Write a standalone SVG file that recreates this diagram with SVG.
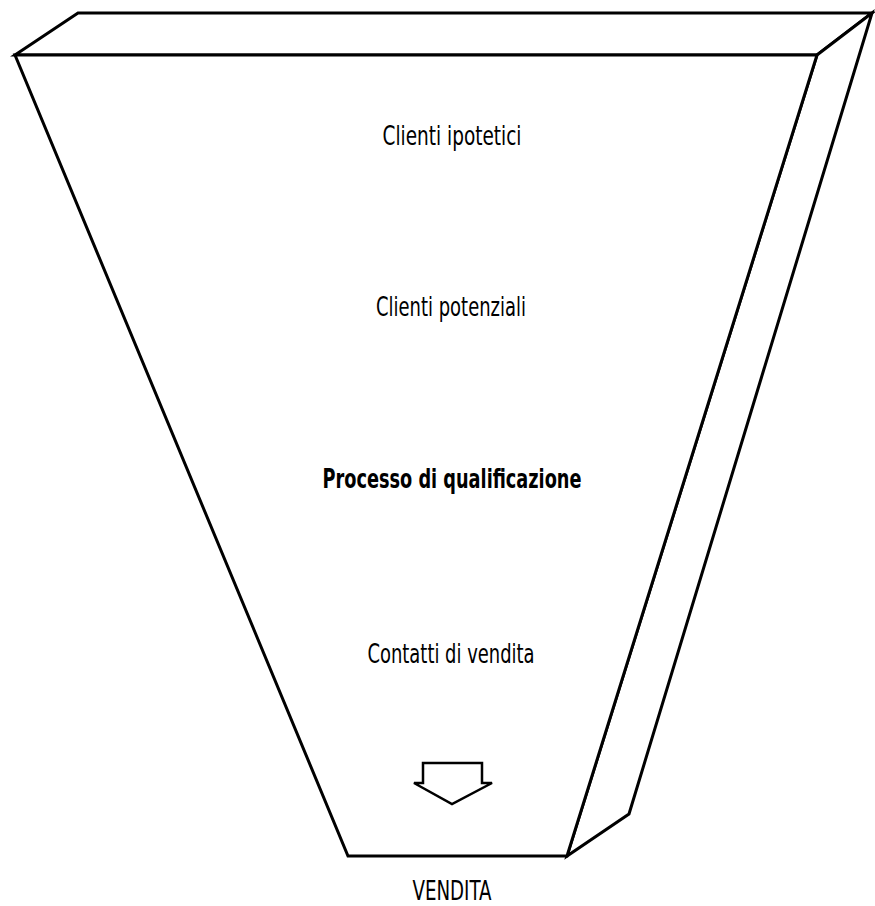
<svg xmlns="http://www.w3.org/2000/svg" width="875" height="906" viewBox="0 0 875 906">
<style>
.edge{fill:#fff;stroke:#000;stroke-width:3;stroke-linejoin:miter}
.lbl{font-family:"DejaVu Sans Condensed","Liberation Sans Narrow","Liberation Sans",sans-serif;font-stretch:condensed;font-size:27px;fill:#000;text-anchor:middle}
.b{font-weight:bold}
</style>
<rect width="875" height="906" fill="#fff"/>
<g id="funnel">
<polygon class="edge" points="15,55 78,13 872,13 817,55"/>
<polygon class="edge" points="817,55 872,13 629,814 567,856"/>
<polygon class="edge" points="15,55 817,55 567,856 348,856"/>
</g>
<g id="arrow">
<polygon points="423,763 482,763 482,783 492,783 452,804 414,783 423,783" fill="#fff" stroke="#000" stroke-width="2.5"/>
</g>
<g id="labels">
<text class="lbl" x="452" y="145" textLength="139" lengthAdjust="spacingAndGlyphs">Clienti ipotetici</text>
<text class="lbl" x="451" y="316" textLength="150" lengthAdjust="spacingAndGlyphs">Clienti potenziali</text>
<text class="lbl b" x="452" y="488" textLength="259" lengthAdjust="spacingAndGlyphs">Processo di qualificazione</text>
<text class="lbl" x="451" y="663" textLength="167" lengthAdjust="spacingAndGlyphs">Contatti di vendita</text>
<text class="lbl" x="452" y="900" font-size="25" textLength="79" lengthAdjust="spacingAndGlyphs">VENDITA</text>
</g>
</svg>
